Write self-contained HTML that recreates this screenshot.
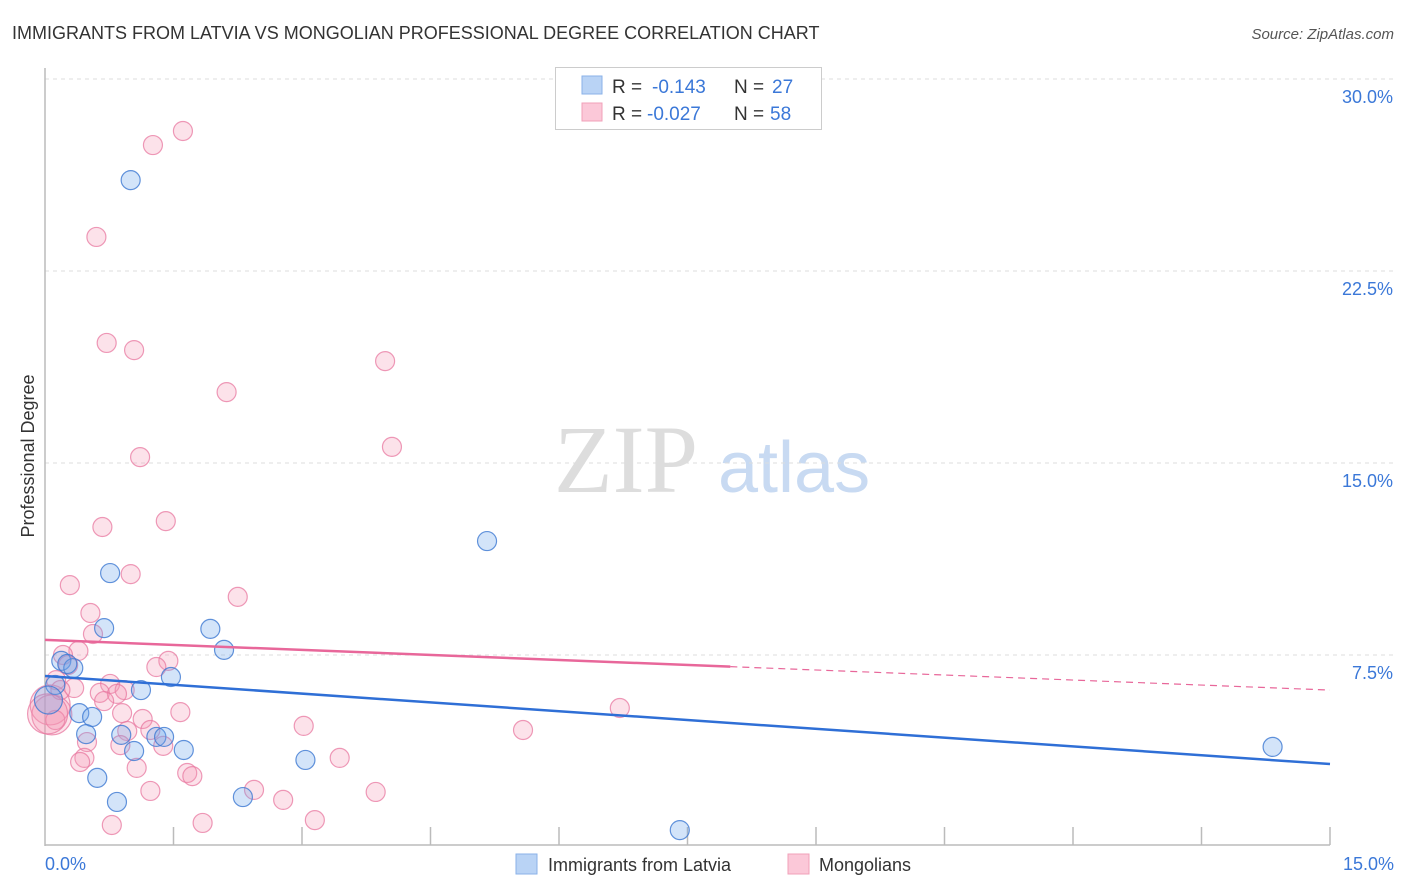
<!DOCTYPE html>
<html><head><meta charset="utf-8"><style>
body{margin:0;background:#fff;font-family:"Liberation Sans",sans-serif;}
#wrap{position:relative;width:1406px;height:892px;overflow:hidden;}
</style></head><body>
<div id="wrap">
<svg id="svg" width="1406" height="892" xmlns="http://www.w3.org/2000/svg">
<text x="12" y="39" font-size="18" fill="#333">IMMIGRANTS FROM LATVIA VS MONGOLIAN PROFESSIONAL DEGREE CORRELATION CHART</text>
<text x="1394" y="39" font-size="15" fill="#555" font-style="italic" text-anchor="end">Source: ZipAtlas.com</text>
<text transform="translate(34,456) rotate(-90)" font-size="18" fill="#333" text-anchor="middle">Professional Degree</text>
<text x="554" y="492" font-size="96" fill="#ddd" font-family="Liberation Serif,serif">ZIP</text>
<text x="718" y="492" font-size="72" fill="#c8daf2">atlas</text>
<g id="grid"></g>
<line x1="45" y1="68" x2="45" y2="846" stroke="#bbb" stroke-width="1.5"/>
<line x1="45" y1="845" x2="1330" y2="845" stroke="#bbb" stroke-width="1.5"/>
<g id="xticks"></g>
<g id="pts"></g>
<g id="trend"></g>
<text x="45" y="870" font-size="18" fill="#3b78d8">0.0%</text>
<text x="1394" y="870" font-size="18" fill="#3b78d8" text-anchor="end">15.0%</text>
<g>
<rect x="555.5" y="67.5" width="266" height="62" fill="#fff" stroke="#ccc"/>
<rect x="582" y="76" width="20" height="18" fill="#b9d3f5" stroke="#8ab2e8"/>
<rect x="582" y="103" width="20" height="18" fill="#fbc8d8" stroke="#f0a0b9"/>
<text x="612" y="93" font-size="19" fill="#333">R = </text><text x="652" y="93" font-size="19" fill="#3b78d8">-0.143</text>
<text x="734" y="93" font-size="19" fill="#333">N = </text><text x="772" y="93" font-size="19" fill="#3b78d8">27</text>
<text x="612" y="120" font-size="19" fill="#333">R = </text><text x="647" y="120" font-size="19" fill="#3b78d8">-0.027</text>
<text x="734" y="120" font-size="19" fill="#333">N = </text><text x="770" y="120" font-size="19" fill="#3b78d8">58</text>
</g>
<g>
<rect x="516" y="854" width="21" height="20" fill="#b9d3f5" stroke="#8ab2e8"/>
<text x="548" y="871" font-size="18" fill="#333">Immigrants from Latvia</text>
<rect x="788" y="854" width="21" height="20" fill="#fbc8d8" stroke="#f0a0b9"/>
<text x="819" y="871" font-size="18" fill="#333">Mongolians</text>
</g>
</svg>
</div>
<script>
const blueX=[1.00,5.16,0.76,0.69,1.93,2.09,0.19,0.33,0.26,0.12,1.12,1.47,0.04,0.40,0.55,0.48,0.89,1.30,1.39,1.04,1.62,3.04,0.61,0.84,2.31,7.41,14.33];
const blueY=[26.05,11.95,10.70,8.55,8.52,7.70,7.27,6.99,7.15,6.33,6.13,6.64,5.74,5.23,5.08,4.41,4.38,4.30,4.30,3.75,3.79,3.40,2.70,1.76,1.95,0.66,3.91];
const pinkX=[1.61,1.26,0.60,0.72,1.04,3.97,2.12,4.05,1.11,1.41,0.67,1.00,0.29,2.25,0.53,0.56,0.39,0.21,0.27,1.44,1.30,0.76,0.93,0.34,0.64,0.84,0.69,0.13,0.06,0.08,0.90,1.58,1.14,6.71,3.02,5.58,0.96,1.23,0.49,0.88,1.38,0.46,0.41,3.44,1.07,1.66,1.72,1.23,2.44,3.86,2.78,0.78,1.84,3.15,0.18,0.12,0.03];
const pinkY=[27.97,27.42,23.83,19.69,19.41,18.98,17.77,15.63,15.23,12.73,12.50,10.66,10.23,9.77,9.14,8.32,7.66,7.50,7.11,7.27,7.03,6.37,6.13,6.21,6.02,5.98,5.70,6.52,5.55,5.16,5.23,5.27,5.00,5.43,4.73,4.57,4.53,4.57,4.10,3.98,3.95,3.48,3.32,3.48,3.09,2.89,2.77,2.19,2.23,2.15,1.84,0.86,0.94,1.05,6.13,4.96,5.2];
const yTicks=[7.5,15,22.5,30];
const blueTrend=[6.68,3.24];
const pinkTrend=[8.09,6.13];
const pinkSolidEnd=8.0;
const NS="http://www.w3.org/2000/svg";
const sx=v=>45+v/15*1285, sy=v=>847-v/7.5*192;
function mk(t,a,p){const e=document.createElementNS(NS,t);for(const k in a)e.setAttribute(k,a[k]);p.appendChild(e);return e;}
const grid=document.getElementById('grid');
yTicks.forEach(t=>{
 const l=mk('line',{x1:45,x2:1394,y1:sy(t),y2:sy(t),stroke:'#ddd','stroke-dasharray':'4,4'},grid);
 
 
 const tx=mk('text',{x:1393,y:sy(t)+24,'font-size':18,fill:'#3b78d8','text-anchor':'end'},grid);
 tx.textContent=t.toFixed(1)+'%';
 
 
});
const xt=document.getElementById('xticks');
for(let i=1;i<=10;i++){const l=mk('line',{x1:sx(i*1.5),x2:sx(i*1.5),y1:827,y2:845,stroke:'#bbb','stroke-width':1.5},xt);
 
 }
const pts=document.getElementById('pts');
pinkX.forEach((x,i)=>{const r=(x<0.1&&pinkY[i]>5&&pinkY[i]<5.6)?20:9.5;
 const c=mk('circle',{cx:sx(x),cy:sy(pinkY[i]),r:r,fill:'rgba(245,150,180,0.28)',stroke:'rgba(232,120,160,0.75)','stroke-width':1.2},pts);
 
 });
blueX.forEach((x,i)=>{const r=(x<0.05)?14:9.5;
 const c=mk('circle',{cx:sx(x),cy:sy(blueY[i]),r:r,fill:'rgba(110,165,235,0.3)',stroke:'rgba(60,120,210,0.8)','stroke-width':1.2},pts);
 
 });
const tr=document.getElementById('trend');
const pAt=x=>pinkTrend[0]+(pinkTrend[1]-pinkTrend[0])*x/15;
let l1=mk('line',{x1:sx(0),y1:sy(pinkTrend[0]),x2:sx(pinkSolidEnd),y2:sy(pAt(pinkSolidEnd)),stroke:'#e8679a','stroke-width':2.5},tr);


let l2=mk('line',{x1:sx(pinkSolidEnd),y1:sy(pAt(pinkSolidEnd)),x2:sx(15),y2:sy(pinkTrend[1]),stroke:'#e8679a','stroke-width':1.2,'stroke-dasharray':'7,5'},tr);


let l3=mk('line',{x1:sx(0),y1:sy(blueTrend[0]),x2:sx(15),y2:sy(blueTrend[1]),stroke:'#2f6fd6','stroke-width':2.5},tr);


</script>
</body></html>
